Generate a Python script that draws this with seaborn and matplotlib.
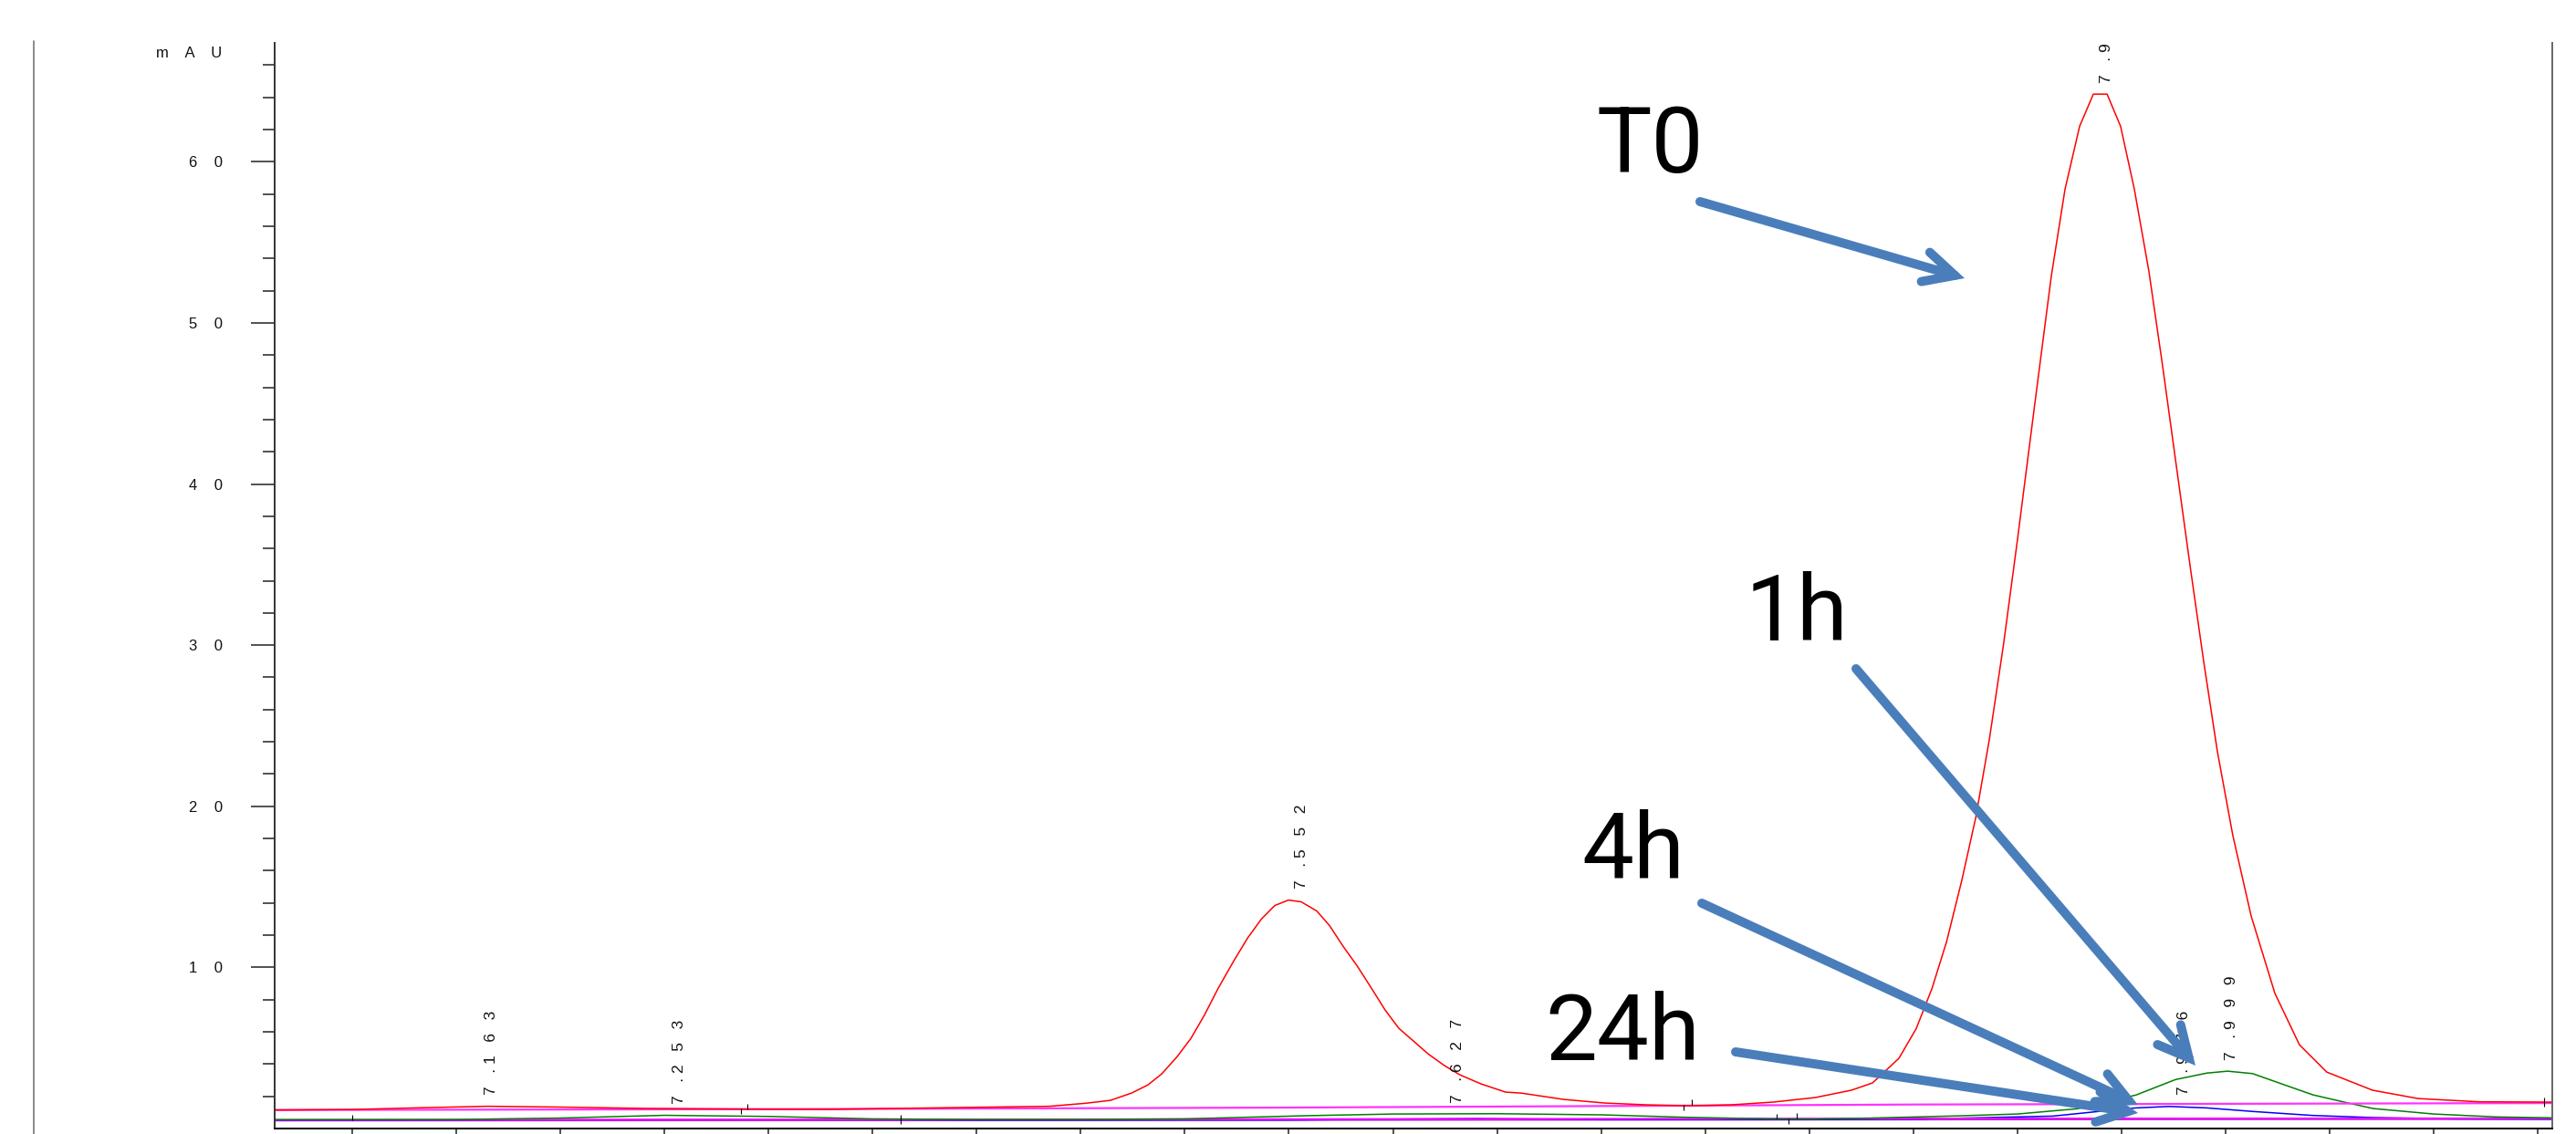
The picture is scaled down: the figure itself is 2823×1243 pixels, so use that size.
import matplotlib
matplotlib.use('Agg')
import matplotlib.pyplot as plt
from matplotlib import font_manager
from matplotlib.lines import Line2D
from matplotlib.ticker import FixedLocator, MultipleLocator
import pandas as pd
import seaborn as sns

# ---- data (retention time in min, signal in mAU) ----
red_rt = [7.063, 7.100, 7.130, 7.165, 7.200, 7.240, 7.289, 7.330, 7.390, 7.435,
          7.4525, 7.4643, 7.4744, 7.4823, 7.4889, 7.4963, 7.5029, 7.5095, 7.5160, 7.5235,
          7.5301, 7.5367, 7.5432, 7.5498, 7.5559, 7.5634, 7.5695, 7.5761, 7.5827, 7.5897,
          7.5963, 7.6029, 7.6094, 7.6169, 7.6248, 7.6322, 7.6423, 7.6541, 7.6616, 7.6818,
          7.7019, 7.7221, 7.7423, 7.7624, 7.7826, 7.8028, 7.8203, 7.8304, 7.8431, 7.8514,
          7.8590, 7.8660, 7.8733, 7.8800, 7.8866, 7.8933, 7.9000, 7.9080, 7.9163, 7.9229,
          7.9299, 7.9365, 7.9431, 7.9496, 7.9562, 7.9632, 7.9697, 7.9763, 7.9829, 7.9895,
          7.9961, 8.0035, 8.0123, 8.0237, 8.0355, 8.0487, 8.0706, 8.0925, 8.1215, 8.157]
red_val = [1.15, 1.18, 1.28, 1.38, 1.33, 1.25, 1.21, 1.19, 1.30, 1.38,
           1.57, 1.75, 2.20, 2.71, 3.39, 4.46, 5.59, 7.06, 8.70, 10.40,
           11.81, 12.99, 13.84, 14.18, 14.07, 13.50, 12.60, 11.30, 10.11, 8.70,
           7.34, 6.21, 5.48, 4.63, 3.90, 3.33, 2.77, 2.26, 2.20, 1.81,
           1.58, 1.47, 1.41, 1.47, 1.64, 1.92, 2.38, 2.83, 4.36, 6.20,
           8.70, 11.60, 15.40, 19.30, 24.20, 30.00, 36.50, 44.60, 52.90, 58.30,
           62.20, 64.20, 64.20, 62.20, 58.30, 53.20, 47.40, 41.20, 35.00, 29.00,
           23.40, 18.20, 13.20, 8.40, 5.20, 3.50, 2.38, 1.86, 1.66, 1.64]

green_rt = [7.063, 7.150, 7.200, 7.250, 7.300, 7.350, 7.400, 7.450, 7.500, 7.560,
            7.600, 7.650, 7.700, 7.740, 7.780, 7.800, 7.830, 7.870, 7.900, 7.929,
            7.957, 7.976, 7.991, 8.001, 8.013, 8.027, 8.042, 8.057, 8.071, 8.100,
            8.130, 8.157]
green_val = [0.55, 0.56, 0.65, 0.82, 0.75, 0.60, 0.56, 0.56, 0.60, 0.80,
             0.90, 0.92, 0.85, 0.70, 0.60, 0.58, 0.65, 0.78, 0.90, 1.23,
             2.08, 3.04, 3.44, 3.56, 3.41, 2.77, 2.09, 1.64, 1.24, 0.90,
             0.72, 0.66]

blue_rt = [7.063, 7.200, 7.300, 7.400, 7.550, 7.640, 7.700, 7.800, 7.851, 7.917,
           7.939, 7.957, 7.973, 7.991, 8.013, 8.042, 8.071, 8.110, 8.157]
blue_val = [0.50, 0.54, 0.56, 0.52, 0.53, 0.62, 0.55, 0.55, 0.58, 0.77,
            1.06, 1.28, 1.37, 1.28, 1.06, 0.81, 0.68, 0.60, 0.58]

magenta_rt = [7.063, 7.400, 7.700, 7.850, 8.157]
magenta_val = [0.53, 0.56, 0.60, 0.62, 0.63]

purple_rt = [7.063, 7.400, 7.700, 8.000, 8.157]
purple_val = [0.49, 0.51, 0.54, 0.57, 0.58]

pink_rt = [7.063, 7.300, 7.550, 7.850, 8.157]
pink_val = [1.15, 1.20, 1.30, 1.49, 1.58]

# peak labels (retention time, apex height, text)
peak_rt = [7.163, 7.253, 7.552, 7.627, 7.939, 7.976, 7.999]
peak_h = [1.38, 0.82, 14.18, 0.90, 64.2, 1.37, 3.56]
peak_txt = ['7.163', '7.253', '7.552', '7.627', '7.939', '7.976', '7.999']

# integration start/stop marks (rt, low, high)
mark_rt = [7.100, 7.2868, 7.2898, 7.3635, 7.7396, 7.7436, 7.7843, 7.7900, 7.7940, 8.1530]
mark_lo = [0.51, 0.90, 1.19, 0.28, 1.13, 1.47, 0.62, 0.28, 0.62, 1.36]
mark_hi = [0.85, 1.25, 1.53, 0.85, 1.47, 1.81, 0.90, 0.62, 0.96, 1.92]

y_major = [10, 20, 30, 40, 50, 60]
y_minor = [v for v in range(2, 67, 2) if v % 10]

# big annotations: text, left x px, baseline y px, arrow start px, arrow tip px
ann_text = ['T0', '1h', '4h', '24h']
ann_xy = [(1750, 189), (1913, 702), (1733, 962), (1693, 1162)]
arrow_from = [(1863, 221), (2034, 733), (1865, 990), (1902, 1153)]
arrow_to = [(2153, 305), (2406, 1168), (2343, 1211), (2343, 1220)]

W, H = 2823, 1243

sns.set_theme(style='white')
plt.rcParams['font.family'] = ['Liberation Sans', 'DejaVu Sans']
names = {f.name for f in font_manager.fontManager.ttflist}
big_font = 'Roboto' if 'Roboto' in names else 'DejaVu Sans'


def fx(x):
    return x / W


def fy(y):
    return 1 - y / H


def spaced(s, gap=3):
    out = ''
    for i, ch in enumerate(s):
        out += ch
        if i < len(s) - 1:
            out += ' ' if ch == '.' else ' ' * gap
    return out


fig = plt.figure(figsize=(W / 100, H / 100), dpi=100)
fig.patch.set_facecolor('white')
ax = fig.add_axes([fx(301), fy(1237), (2797 - 301) / W, (1237 - 47) / H])
ax.set_facecolor('white')

traces = [
    (purple_rt, purple_val, '#9933CC', 1.3),
    (blue_rt, blue_val, '#0000FF', 1.1),
    (magenta_rt, magenta_val, '#FF00FF', 1.5),
    (green_rt, green_val, '#008000', 1.1),
    (pink_rt, pink_val, '#FF33FF', 1.6),
    (red_rt, red_val, '#FF0000', 1.1),
]
for rt, val, col, lw in traces:
    df = pd.DataFrame({'rt': rt, 'mAU': val})
    sns.lineplot(data=df, x='rt', y='mAU', color=col, lw=lw, sort=False,
                 estimator=None, legend=False, ax=ax)

ax.vlines(mark_rt, mark_lo, mark_hi, colors='black', lw=0.8)

for rt, h, t in zip(peak_rt, peak_h, peak_txt):
    ax.annotate(spaced(t), xy=(rt, h), xytext=(6.5, 9), textcoords='offset points',
                rotation=90, ha='center', va='bottom', fontsize=12.5, color='#111111',
                clip_on=True)

ax.set_xlim(7.0627, 8.157)
ax.set_ylim(0, 67.38)
ax.set_xlabel('')
ax.set_ylabel('')

ax.xaxis.set_major_locator(MultipleLocator(0.05))
ax.tick_params(axis='x', which='major', direction='out', length=8, width=1.1,
               color='#222222', labelbottom=False, bottom=True)
ax.yaxis.set_major_locator(FixedLocator(y_major))
ax.yaxis.set_minor_locator(FixedLocator(y_minor))
ax.set_yticklabels([spaced(str(v), 4) for v in y_major])
ax.tick_params(axis='y', which='major', direction='out', length=18.7, width=1.1,
               color='#222222', pad=22, labelsize=12, labelcolor='#111111', left=True)
ax.tick_params(axis='y', which='minor', direction='out', length=9.4, width=1.1,
               color='#222222', left=True)

ax.spines['top'].set_visible(False)
ax.spines['left'].set_color('#333333')
ax.spines['left'].set_linewidth(1.4)
ax.spines['right'].set_color('#666666')
ax.spines['right'].set_linewidth(1.4)
ax.spines['bottom'].set_color('#111111')
ax.spines['bottom'].set_linewidth(1.5)

fig.text(fx(243), fy(63), spaced('mAU', 4), ha='right', va='baseline',
         fontsize=12, color='#111111')

fig.add_artist(Line2D([fx(37), fx(37)], [fy(45), 0], transform=fig.transFigure,
                      color='#777777', lw=1.2))

for t, (x, y) in zip(ann_text, ann_xy):
    fig.text(fx(x), fy(y), t, ha='left', va='baseline', fontsize=73,
             family=[big_font, 'DejaVu Sans'], color='black')

for (x0, y0), (x1, y1) in zip(arrow_from, arrow_to):
    ax.annotate('', xy=(x1, H - y1), xytext=(x0, H - y0),
                xycoords='figure pixels', textcoords='figure pixels',
                arrowprops=dict(arrowstyle='->,head_length=24,head_width=12',
                                mutation_scale=1, color='#4A7EBB', lw=7.2,
                                shrinkA=0, shrinkB=0, capstyle='round',
                                joinstyle='miter', clip_on=False))

fig.savefig('out.png', dpi=100, facecolor='white')
